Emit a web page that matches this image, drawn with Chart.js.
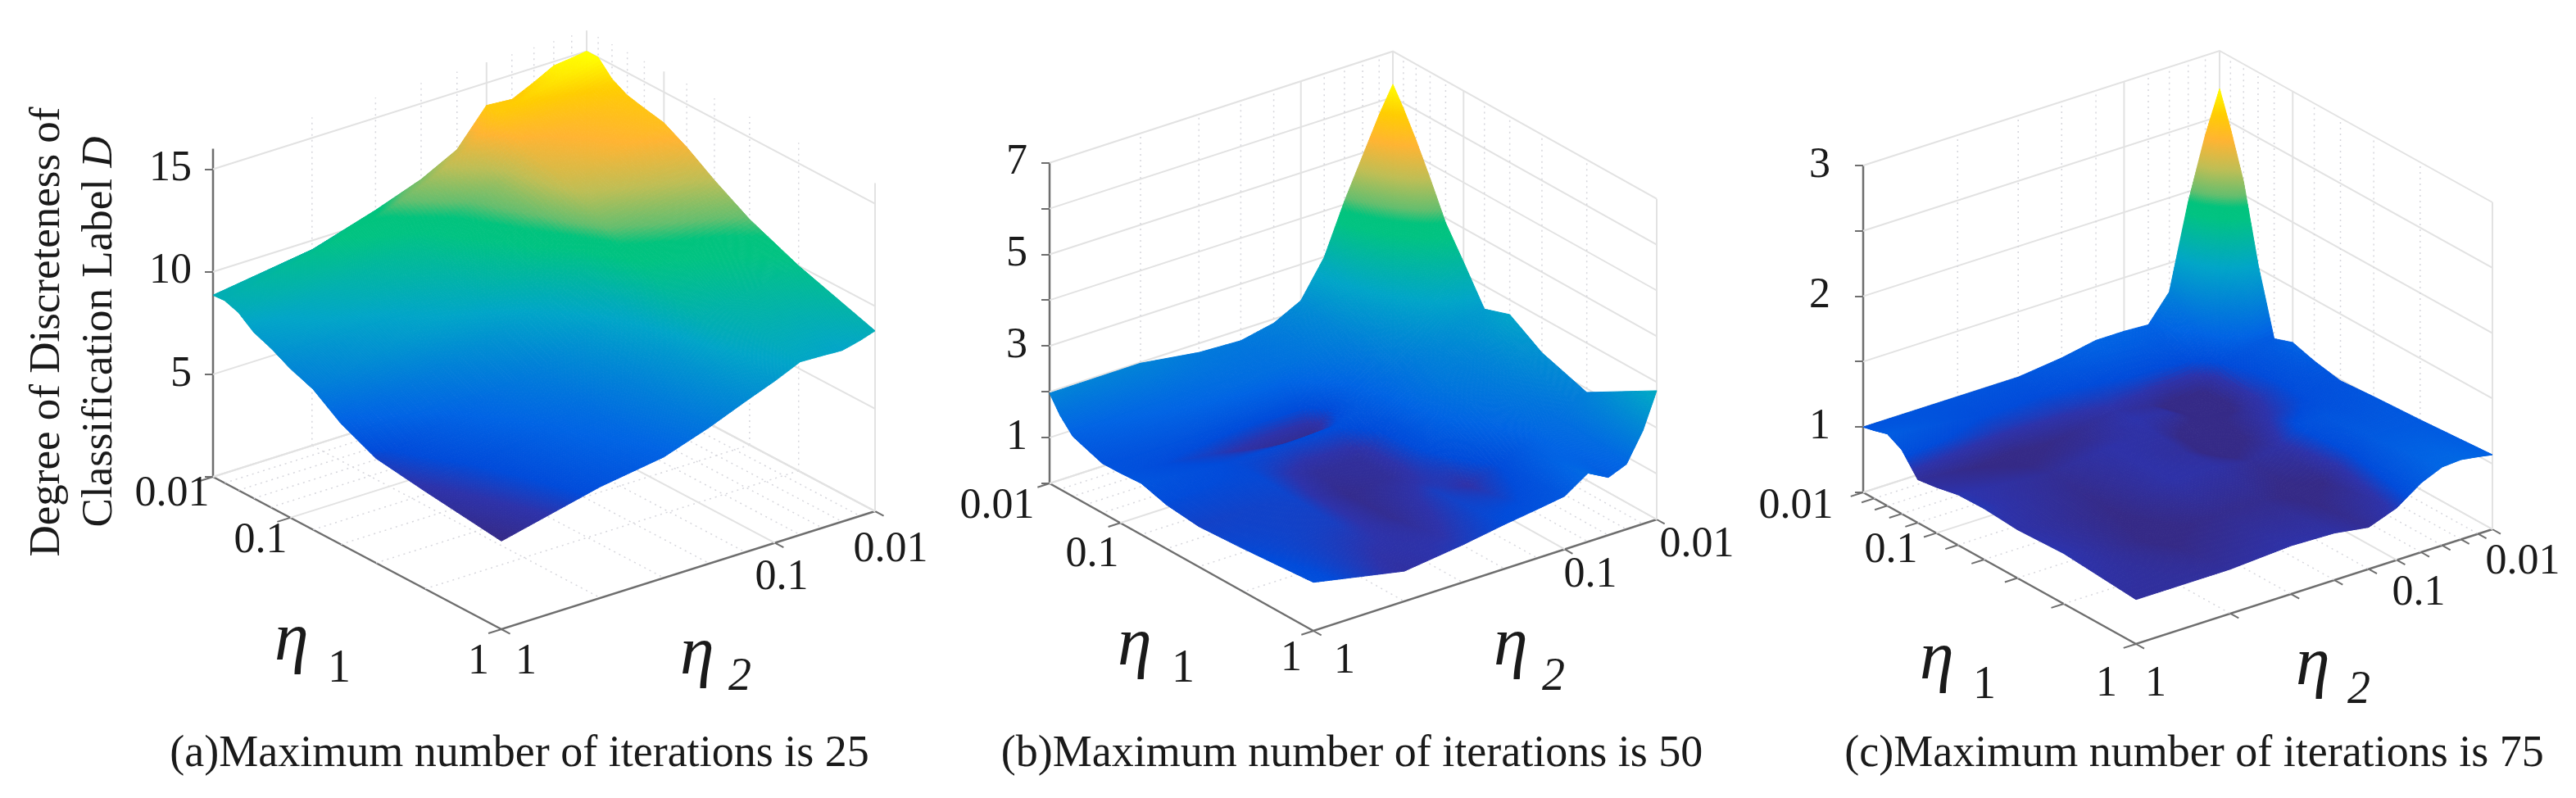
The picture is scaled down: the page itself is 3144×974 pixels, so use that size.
<!DOCTYPE html>
<html>
<head>
<meta charset="utf-8">
<title>Degree of discreteness</title>
<script src="https://cdn.jsdelivr.net/npm/chart.js@4/dist/chart.umd.js"></script>
<style>
  html, body { margin: 0; padding: 0; background: #fff; }
  canvas { position: absolute; top: 0; }
</style>
</head>
<body>
<canvas id="chart-a"></canvas>
<canvas id="chart-b"></canvas>
<canvas id="chart-c"></canvas>
<script>
// positions of the eta ticks along a floor edge, 0.01 end to 1 end
const etaTicks = [0, 0.04, 0.088, 0.141, 0.2, 0.268, 0.347, 0.443, 0.565, 0.735, 1];

// rows: eta1 from 0.01 to 1, columns: eta2 from 0.01 to 1
const surfaceA = [
  [15.0, 14.9, 14.8, 14.3, 13.8, 13.9, 12.2, 11.3, 10.5, 9.55, 8.86],
  [15.0, 14.8, 14.6, 14.4, 14.15, 13.85, 12.6, 11.7, 10.8, 10.0, 8.9],
  [14.3, 14.1, 13.9, 13.7, 13.5, 13.2, 12.1, 11.3, 10.4, 9.7, 8.67],
  [13.9, 13.7, 13.5, 13.3, 13.1, 12.8, 11.6, 10.8, 9.9, 9.2, 8.1],
  [13.7, 13.5, 13.3, 13.1, 12.9, 12.6, 11.4, 10.5, 9.6, 8.9, 7.77],
  [13.5, 13.3, 13.1, 12.9, 12.6, 12.3, 11.1, 10.1, 9.2, 8.4, 7.27],
  [12.9, 12.7, 12.5, 12.3, 12.05, 11.75, 10.55, 9.6, 8.75, 8.0, 6.85],
  [12.0, 11.8, 11.6, 11.4, 11.15, 10.85, 9.6, 8.7, 7.8, 7.0, 5.9],
  [11.0, 10.8, 10.6, 10.4, 10.2, 9.9, 8.7, 7.8, 7.0, 6.2, 5.1],
  [10.0, 9.8, 9.65, 9.5, 9.25, 9.0, 7.95, 7.15, 6.4, 5.75, 4.76],
  [8.8, 8.56, 8.35, 8.4, 8.44, 7.9, 7.35, 6.65, 5.9, 5.43, 4.3]
];
const surfaceB = [
  [6.28, 5.71, 4.93, 4.07, 2.99, 2.21, 1.91, 1.76, 1.8, 1.98, 1.97],
  [5.88, 5.4, 4.6, 3.8, 2.85, 2.15, 1.85, 1.7, 1.72, 1.8, 1.61],
  [5.34, 4.9, 4.2, 3.5, 2.7, 2.05, 1.8, 1.65, 1.62, 1.55, 1.31],
  [4.68, 4.3, 3.75, 3.15, 2.5, 2.0, 1.75, 1.6, 1.5, 1.35, 1.2],
  [3.9, 3.65, 3.25, 2.8, 2.3, 1.85, 1.6, 1.2, 1.15, 1.15, 1.08],
  [3.26, 3.05, 2.8, 2.45, 2.1, 1.7, 1.3, 0.5, 0.58, 0.85, 1.09],
  [2.49, 2.4, 2.3, 2.1, 1.85, 1.55, 1.2, 1.0, 0.95, 0.95, 1.12],
  [2.68, 2.35, 2.05, 1.9, 1.8, 1.5, 1.05, 0.62, 0.6, 0.95, 0.96],
  [2.24, 2.1, 1.9, 1.75, 1.6, 1.35, 1.0, 0.6, 0.5, 0.9, 0.88],
  [1.92, 1.8, 1.6, 1.5, 1.2, 0.95, 0.72, 0.85, 0.55, 0.85, 0.94],
  [2.81, 2.04, 1.42, 1.26, 1.5, 1.16, 1.07, 0.97, 0.82, 0.66, 1.06]
];
const surfaceC = [
  [2.71, 2.39, 1.92, 1.28, 1.08, 1.09, 1.09, 1.04, 1.0, 1.0, 1.0],
  [2.45, 2.2, 1.75, 1.2, 1.05, 1.06, 1.06, 1.02, 0.98, 0.98, 1.02],
  [2.1, 1.85, 1.5, 1.12, 1.02, 1.0, 1.0, 0.97, 0.95, 0.96, 1.05],
  [1.53, 1.4, 1.2, 1.03, 0.95, 0.93, 0.93, 0.92, 0.9, 0.9, 0.99],
  [1.03, 1.03, 1.0, 0.95, 0.76, 0.72, 0.82, 0.86, 0.8, 0.75, 0.83],
  [1.08, 1.02, 0.98, 0.92, 0.72, 0.74, 0.85, 0.88, 0.82, 0.78, 0.85],
  [1.03, 1.0, 0.97, 0.9, 0.82, 0.76, 0.74, 0.86, 0.87, 0.82, 0.885],
  [0.99, 0.98, 0.97, 0.93, 0.88, 0.78, 0.73, 0.84, 0.87, 0.8, 0.89],
  [1.01, 1.0, 0.99, 1.0, 0.98, 0.86, 0.82, 0.86, 0.87, 0.78, 0.87],
  [1.03, 1.03, 1.03, 1.03, 0.95, 0.78, 0.76, 0.8, 0.8, 0.76, 0.885],
  [1.07, 1.09, 1.11, 1.1, 1.03, 0.9, 0.82, 0.86, 0.87, 0.84, 0.84]
];

const zTicksA = [0, 5, 10, 15];
const zTicksB = [0, 1, 2, 3, 4, 5, 6, 7];
const zTicksC = [0.5, 1, 1.5, 2, 2.5, 3];
const zLabelsA = [5, 10, 15];
const zLabelsB = [1, 3, 5, 7];
const zLabelsC = [1, 2, 3];
const captions = [
  "(a)Maximum number of iterations is 25",
  "(b)Maximum number of iterations is 50",
  "(c)Maximum number of iterations is 75"
];
const yTitle = ["Degree of Discreteness of", "Classification Label "];

const SERIF = '"Liberation Serif", "Times New Roman", serif';
const colorStops = [
  [0, 53, 42, 135], [0.05, 45, 50, 170], [0.09, 0, 75, 218], [0.16, 0, 100, 228],
  [0.38, 0, 165, 200], [0.55, 0, 195, 130], [0.59, 0, 195, 125], [0.63, 100, 190, 110],
  [0.72, 190, 190, 85], [0.82, 255, 180, 50], [0.91, 255, 205, 0], [1, 255, 255, 0]
];

function colorAt(v) {
  v = Math.max(0, Math.min(1, v));
  for (let i = 1; i < colorStops.length; i++) {
    if (v <= colorStops[i][0]) {
      const a = colorStops[i - 1], b = colorStops[i];
      const f = (v - a[0]) / (b[0] - a[0]);
      return `rgb(${a[1] + (b[1] - a[1]) * f},${a[2] + (b[2] - a[2]) * f},${a[3] + (b[3] - a[3]) * f})`;
    }
  }
  return "rgb(255,255,0)";
}

const panels = [
  {
    id: "chart-a", left: 0, right: 1145, surface: surfaceA,
    cornerL: [260, 582], cornerF: [612, 768], cornerR: [1068, 624],
    zUnit: 25.03, zMin: 0, zMax: 16, zTicks: zTicksA, zLabels: zLabelsA, colorLow: 4.3,
    labelGap: 16, axisTicks: [0, 5, 10],
    floorLabels: [["0.01", 210, 603], ["0.1", 318, 660], ["1", 584, 808], ["1", 642, 808], ["0.1", 954, 705], ["0.01", 1087, 671]],
    eta1: [335, 805, 400, 832], eta2: [830, 822, 889, 842],
    caption: captions[0], captionX: 634, yTitle: true
  },
  {
    id: "chart-b", left: 1145, right: 2125, surface: surfaceB,
    cornerL: [1281, 590], cornerF: [1603, 770], cornerR: [2022, 634],
    zUnit: 55.9, zMin: 0, zMax: 7, zTicks: zTicksB, zLabels: zLabelsB, colorLow: 0.45,
    labelGap: 17, axisTicks: [0, 5, 10],
    floorLabels: [["0.01", 1217, 618], ["0.1", 1333, 677], ["1", 1576, 804], ["1", 1641, 807], ["0.1", 1941, 702], ["0.01", 2071, 665]],
    eta1: [1364, 811, 1430, 832], eta2: [1823, 811, 1882, 842],
    caption: captions[1], captionX: 1650
  },
  {
    id: "chart-c", left: 2125, right: 3144, surface: surfaceC,
    cornerL: [2274, 601], cornerF: [2607, 786], cornerR: [3042, 646],
    zUnit: 159.6, zMin: 0.5, zMax: 3, zTicks: zTicksC, zLabels: zLabelsC, colorLow: 0.78,
    labelGap: 30, axisTicks: [0, 1, 2, 3, 4, 5, 6, 7, 8, 9, 10],
    floorLabels: [["0.01", 2192, 618], ["0.1", 2308, 672], ["1", 2571, 835], ["1", 2631, 835], ["0.1", 2952, 724], ["0.01", 3079, 686]],
    eta1: [2343, 828, 2408, 852], eta2: [2802, 835, 2865, 858],
    caption: captions[2], captionX: 2678
  }
];

// floor position (ti along eta1, tj along eta2) and height to scale values.
// y is expressed in z units so the value axis is a real chart axis at the left corner
function project(p, ti, tj, z) {
  const bx = p.cornerL[0] + p.cornerR[0] - p.cornerF[0];
  const by = p.cornerL[1] + p.cornerR[1] - p.cornerF[1];
  const x = bx + ti * (p.cornerR[0] - bx) + tj * (p.cornerL[0] - bx);
  const floorY = by + ti * (p.cornerR[1] - by) + tj * (p.cornerL[1] - by);
  return { x: x, y: z + (p.cornerL[1] - floorY) / p.zUnit };
}

function lineSet(data, color, width, dash) {
  return {
    type: "scatter", data: data, showLine: true, pointRadius: 0, clip: false,
    borderColor: color, borderWidth: width, borderDash: dash || [], fill: false, tension: 0
  };
}

const GRID = "#e2e2e2";
const DOTS = "#d6d6dc";
const AXIS = "#6e6e6e";

function buildDatasets(p) {
  const sets = [];
  const z0 = p.zMin, z1 = p.zMax;
  etaTicks.forEach((t, k) => {
    const solid = k === 0 || k === 5 || k === 10;
    const col = solid ? GRID : DOTS, w = solid ? 2 : 1.5, dash = solid ? [] : [2, 5];
    // floor
    if (k < 10) {
      sets.push(lineSet([project(p, t, 0, z0), project(p, t, 1, z0)], col, w, dash));
      sets.push(lineSet([project(p, 0, t, z0), project(p, 1, t, z0)], col, w, dash));
    }
    // back walls
    if (k < 10) sets.push(lineSet([project(p, 0, t, z0), project(p, 0, t, z1)], col, w, dash));
    sets.push(lineSet([project(p, t, 0, z0), project(p, t, 0, z1)], col, w, dash));
  });
  p.zTicks.forEach(z => {
    sets.push(lineSet([project(p, 0, 1, z), project(p, 0, 0, z), project(p, 1, 0, z)], GRID, 2));
  });
  // dark axes with their tick marks
  sets.push(lineSet([project(p, 0, 1, z0), project(p, 0, 1, z1)], AXIS, 2.5));
  sets.push(lineSet([project(p, 0, 1, z0), project(p, 1, 1, z0), project(p, 1, 0, z0)], AXIS, 2.5));
  p.axisTicks.forEach(k => {
    const t = etaTicks[k];
    sets.push(lineSet([project(p, t, 1, z0), project(p, t, 1.035, z0)], AXIS, 2));
    sets.push(lineSet([project(p, 1, t, z0), project(p, 1.03, t, z0)], AXIS, 2));
  });
  // surface nodes, painted by the surfacePlugin through the same scales
  const nodes = [];
  p.surface.forEach((row, i) => row.forEach((z, j) => nodes.push(project(p, etaTicks[i], etaTicks[j], z))));
  sets.push({ type: "scatter", label: "D", data: nodes, pointRadius: 0, showLine: false, clip: false });
  return sets;
}

const surfacePlugin = {
  id: "surfacePlugin",
  afterDatasetsDraw(chart, args, opts) {
    const p = opts.panel, ctx = chart.ctx;
    const sx = chart.scales.x, sy = chart.scales.y;
    const lo = p.colorLow, hi = Math.max(...p.surface.flat());
    const px = (ti, tj, z) => {
      const q = project(p, ti, tj, z);
      return [sx.getPixelForValue(q.x), sy.getPixelForValue(q.y)];
    };
    ctx.save();
    ctx.lineWidth = 1;
    ctx.lineJoin = "round";
    // back corner to front corner so nearer cells paint over farther ones
    for (let i = 0; i < etaTicks.length - 1; i++) {
      for (let j = 0; j < etaTicks.length - 1; j++) {
        const z = p.surface;
        const a = [etaTicks[i], etaTicks[i + 1]], b = [etaTicks[j], etaTicks[j + 1]];
        const c00 = px(a[0], b[0], z[i][j]), c11 = px(a[1], b[1], z[i + 1][j + 1]);
        const c10 = px(a[1], b[0], z[i + 1][j]), c01 = px(a[0], b[1], z[i][j + 1]);
        const span = Math.max(Math.hypot(c00[0] - c11[0], c00[1] - c11[1]), Math.hypot(c10[0] - c01[0], c10[1] - c01[1]));
        const n = Math.max(2, Math.ceil(span / 6));
        const lerp = (u, v) => z[i][j] * (1 - u) * (1 - v) + z[i + 1][j] * u * (1 - v) + z[i][j + 1] * (1 - u) * v + z[i + 1][j + 1] * u * v;
        const at = (u, v) => px(a[0] + (a[1] - a[0]) * u, b[0] + (b[1] - b[0]) * v, lerp(u, v));
        for (let s = 0; s < n; s++) {
          for (let t = 0; t < n; t++) {
            const u0 = s / n, u1 = (s + 1) / n, v0 = t / n, v1 = (t + 1) / n;
            const col = colorAt((lerp((u0 + u1) / 2, (v0 + v1) / 2) - lo) / (hi - lo));
            const q = [at(u0, v0), at(u1, v0), at(u1, v1), at(u0, v1)];
            ctx.beginPath();
            ctx.moveTo(q[0][0], q[0][1]);
            ctx.lineTo(q[1][0], q[1][1]);
            ctx.lineTo(q[2][0], q[2][1]);
            ctx.lineTo(q[3][0], q[3][1]);
            ctx.closePath();
            ctx.fillStyle = col;
            ctx.strokeStyle = col;
            ctx.fill();
            ctx.stroke();
          }
        }
      }
    }
    ctx.restore();
  }
};

const textPlugin = {
  id: "textPlugin",
  afterDraw(chart, args, opts) {
    const p = opts.panel, ctx = chart.ctx;
    ctx.save();
    ctx.translate(-p.left, 0);
    ctx.fillStyle = "#1a1a1a";
    ctx.textBaseline = "middle";
    ctx.textAlign = "center";
    ctx.font = `52px ${SERIF}`;
    p.floorLabels.forEach(l => ctx.fillText(l[0], l[1], l[2]));

    ctx.textBaseline = "alphabetic";
    ctx.textAlign = "left";
    ctx.font = `italic 84px ${SERIF}`;
    ctx.fillText("\u03b7", p.eta1[0], p.eta1[1]);
    ctx.fillText("\u03b7", p.eta2[0], p.eta2[1]);
    ctx.font = `56px ${SERIF}`;
    ctx.fillText("1", p.eta1[2], p.eta1[3]);
    ctx.font = `italic 56px ${SERIF}`;
    ctx.fillText("2", p.eta2[2], p.eta2[3]);

    ctx.textAlign = "center";
    ctx.font = `54px ${SERIF}`;
    ctx.fillText(p.caption, p.captionX, 935);

    if (p.yTitle) {
      ctx.save();
      ctx.translate(72, 405);
      ctx.rotate(-Math.PI / 2);
      ctx.font = `53px ${SERIF}`;
      ctx.fillText(yTitle[0], 0, 0);
      const w1 = ctx.measureText(yTitle[1]).width;
      ctx.font = `italic 53px ${SERIF}`;
      const w2 = ctx.measureText("D").width;
      ctx.textAlign = "left";
      ctx.font = `53px ${SERIF}`;
      ctx.fillText(yTitle[1], -(w1 + w2) / 2, 64);
      ctx.font = `italic 53px ${SERIF}`;
      ctx.fillText("D", -(w1 + w2) / 2 + w1, 64);
      ctx.restore();
    }
    ctx.restore();
  }
};

panels.forEach(p => {
  const canvas = document.getElementById(p.id);
  canvas.width = p.right - p.left;
  canvas.height = 974;
  canvas.style.left = p.left + "px";
  new Chart(canvas, {
    type: "scatter",
    data: { datasets: buildDatasets(p) },
    plugins: [surfacePlugin, textPlugin],
    options: {
      responsive: false,
      animation: false,
      events: [],
      layout: { padding: 0 },
      plugins: {
        legend: { display: false },
        tooltip: { enabled: false },
        surfacePlugin: { panel: p },
        textPlugin: { panel: p }
      },
      scales: {
        x: { type: "linear", display: false, min: p.cornerL[0], max: p.right },
        y: {
          type: "linear",
          position: "left",
          min: p.zMin - (974 - p.cornerL[1]) / p.zUnit,
          max: p.zMin + p.cornerL[1] / p.zUnit,
          afterBuildTicks: s => { s.ticks = p.zTicks.map(v => ({ value: v })); },
          afterFit: s => {
            s.width = p.cornerL[0] - p.left;
            s.paddingTop = 0;
            s.paddingBottom = 0;
          },
          border: { display: false },
          grid: { drawOnChartArea: false, tickLength: 10, color: AXIS, lineWidth: 2 },
          ticks: {
            padding: p.labelGap,
            color: "#1a1a1a",
            font: { family: SERIF, size: 52 },
            autoSkip: false,
            maxRotation: 0,
            callback: v => (p.zLabels.includes(v) ? String(v) : "")
          }
        }
      }
    }
  });
});
</script>
</body>
</html>
